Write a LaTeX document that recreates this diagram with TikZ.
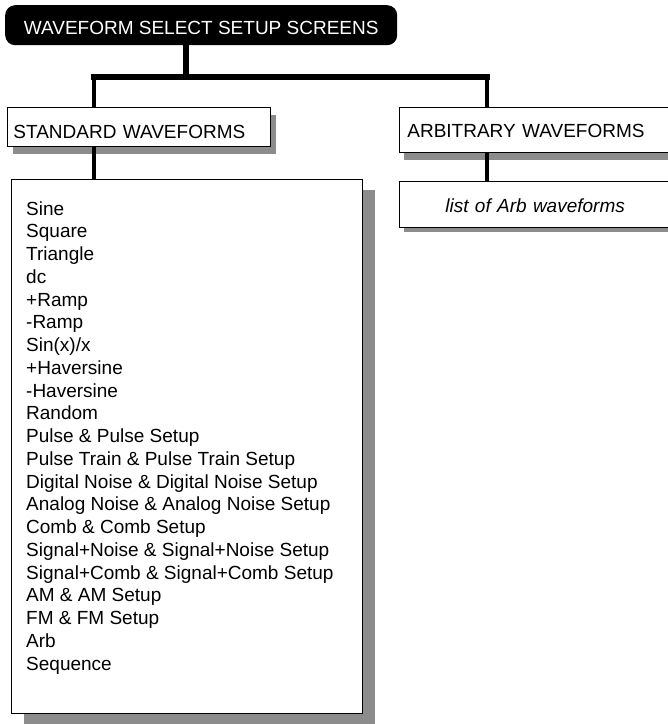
\documentclass[tikz,border=0pt]{standalone}
\usepackage{fontspec}
\setmainfont{Liberation Sans}
\usetikzlibrary{shadows}

\tikzset{
  boxtxt/.style={font=\fontsize{19}{22.8}\selectfont},
  shadegray/.style={fill=black!45,opacity=1},
  titlebox/.style={fill=black,text=white,rounded corners=10pt,anchor=north west,
    inner ysep=0pt,minimum width=392pt,text height=29pt,text depth=11pt,boxtxt},
  plainbox/.style={draw=black,line width=0.8pt,fill=white,anchor=north west,
    inner ysep=0pt,align=left,boxtxt},
  conn/.style={line width=4pt},
  trunk/.style={line width=6pt},
}

\begin{document}
\begin{tikzpicture}[x=1pt,y=-1pt]
\useasboundingbox (0,0) rectangle (668,724);

\node[titlebox] (title) at (5,5) {WAVEFORM SELECT SETUP SCREENS};

\node[plainbox,text width=251pt,inner xsep=6pt,text height=31pt,text depth=8pt,
    drop shadow={shadow xshift=6pt,shadow yshift=-8pt,shadegray}]
    (std) at (7,107) {STANDARD WAVEFORMS};
\node[plainbox,text width=260pt,inner xsep=8pt,text height=30pt,text depth=15pt,
    drop shadow={shadow xshift=5pt,shadow yshift=-8pt,shadegray}]
    (arb) at (399,107) {ARBITRARY WAVEFORMS};

\node[plainbox,text width=183pt,inner xsep=46pt,text height=31pt,text depth=15pt,
    font=\fontsize{19}{22.8}\selectfont\itshape,
    drop shadow={shadow xshift=5pt,shadow yshift=-5pt,shadegray}]
    (arblist) at (399,181) {list of Arb waveforms};

\node[plainbox,minimum width=351pt,minimum height=534pt,
    drop shadow={shadow xshift=13pt,shadow yshift=-11pt,shadegray}]
    (stdlist) at (11,179) {};

% standard waveform list
\foreach \lab [count=\i from 0] in {Sine,Square,Triangle,dc,+Ramp,-Ramp,Sin(x)/x,
    +Haversine,-Haversine,Random,Pulse \& Pulse Setup,
    Pulse Train \& Pulse Train Setup,Digital Noise \& Digital Noise Setup,
    Analog Noise \& Analog Noise Setup,Comb \& Comb Setup,
    Signal+Noise \& Signal+Noise Setup,Signal+Comb \& Signal+Comb Setup,
    AM \& AM Setup,FM \& FM Setup,Arb,Sequence}{
    \node[boxtxt,anchor=base west,inner sep=0pt] (item\i) at (26,215+22.76*\i) {\lab};
}

% tree connectors
\coordinate (split) at (186,77);
\coordinate (lft) at (94,77);
\coordinate (rgt) at (487,77);
\draw[trunk] (title.south -| split) -- (split);
\draw[trunk,line cap=rect] (lft) -- (rgt);
\draw[conn] (lft) -- (lft |- std.north);
\draw[conn] (rgt) -- (rgt |- arb.north);
\draw[conn] (std.south -| lft) -- (lft |- stdlist.north);
\draw[conn] (arb.south -| rgt) -- (rgt |- arblist.north);
\end{tikzpicture}
\end{document}
